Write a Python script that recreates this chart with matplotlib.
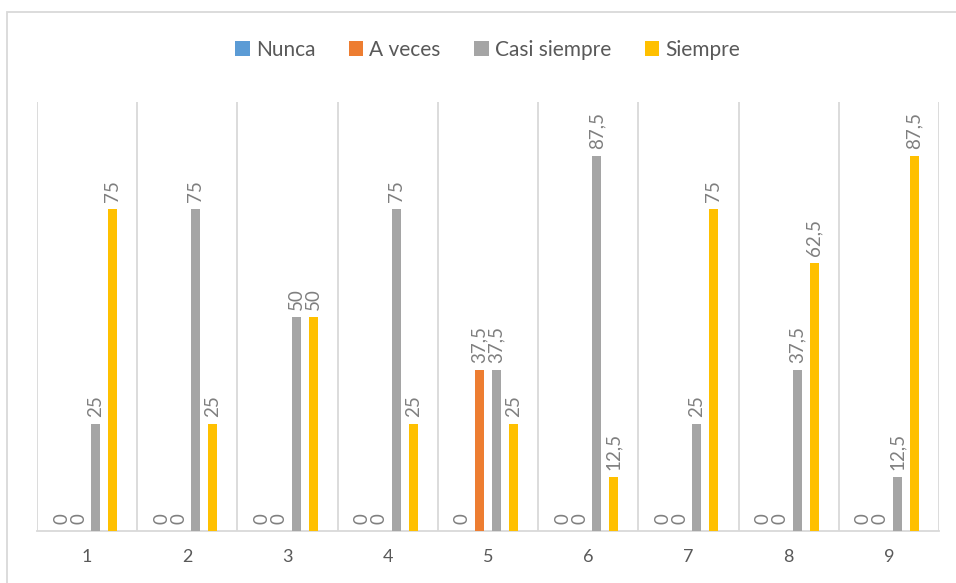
import matplotlib

matplotlib.use("Agg")
import matplotlib.pyplot as plt
import numpy as np
from matplotlib.patches import Rectangle

plt.rcParams["font.family"] = ["Lato", "DejaVu Sans"]

categories = ["1", "2", "3", "4", "5", "6", "7", "8", "9"]
series_names = ["Nunca", "A veces", "Casi siempre", "Siempre"]
nunca = [0, 0, 0, 0, 0, 0, 0, 0, 0]
a_veces = [0, 0, 0, 0, 37.5, 0, 0, 0, 0]
casi_siempre = [25, 75, 50, 75, 37.5, 87.5, 25, 37.5, 12.5]
siempre = [75, 25, 50, 25, 25, 12.5, 75, 62.5, 87.5]

COLORS = ["#5B9BD5", "#ED7D31", "#A5A5A5", "#FFC000"]
GRID = "#d9d9d9"
LABEL = "#7f7f7f"
TICK = "#595959"


def fmt(v):
    return f"{v:g}".replace(".", ",")


fig = plt.figure(figsize=(9.56, 5.83), dpi=100, facecolor="white")
ax = fig.add_axes([0.0387, 0.0892, 0.9435, 0.7358])

x = np.arange(len(categories))
offsets = [-0.255, -0.085, 0.085, 0.255]
width = 0.09
all_series = [nunca, a_veces, casi_siempre, siempre]
for vals, off, color, name in zip(all_series, offsets, COLORS, series_names):
    bars = ax.bar(x + off, vals, width=width, color=color, label=name, zorder=3)
    for b, v in zip(bars, vals):
        ax.annotate(fmt(v), (b.get_x() + b.get_width() / 2, b.get_height()),
                    xytext=(0, 5), textcoords="offset points",
                    rotation=90, ha="center", va="bottom",
                    fontsize=13.5, color=LABEL)

ax.set_xlim(-0.5, len(categories) - 0.5)
ax.set_ylim(0, 100)
ax.set_yticks([])
for xv in np.arange(-0.5, len(categories), 1.0):
    ax.axvline(xv, color=GRID, linewidth=1.3, zorder=1)
for s in ("top", "right", "left"):
    ax.spines[s].set_visible(False)
ax.spines["bottom"].set_color(GRID)
ax.spines["bottom"].set_linewidth(1.3)
ax.set_xticks(x)
ax.set_xticklabels(categories, fontsize=13, color=TICK)
ax.tick_params(axis="x", length=0, pad=13)

fig.legend(loc="center", bbox_to_anchor=(0.51, 0.915), ncol=4, frameon=False,
           fontsize=15, labelcolor=TICK, handlelength=0.7, handleheight=0.7,
           handletextpad=0.3, columnspacing=1.6)

fig.patches.append(Rectangle((7 / 956, -0.05), 1.2, (583 - 12) / 583 + 0.05,
                             transform=fig.transFigure, fill=False,
                             edgecolor=GRID, linewidth=1.3))

fig.savefig("out.png", dpi=100, facecolor="white")
